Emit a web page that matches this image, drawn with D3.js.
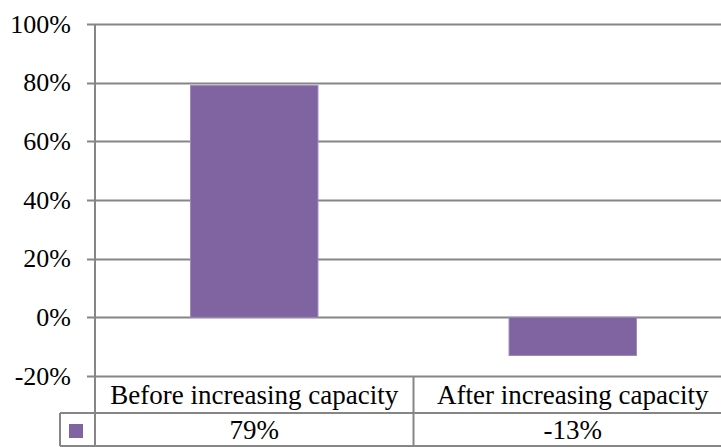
<!DOCTYPE html>
<html>
<head>
<meta charset="utf-8">
<script src="https://cdn.jsdelivr.net/npm/d3@7"></script>
<style>
  html, body { margin: 0; padding: 0; background: #fff; }
  svg { display: block; }
</style>
</head>
<body>
<svg id="chart" width="721" height="447"></svg>
<script>
// Chart data
const categories = ["Before increasing capacity", "After increasing capacity"];
const values = [0.79, -0.13];
const yTicks = [-0.2, 0, 0.2, 0.4, 0.6, 0.8, 1.0];

const axisFontSize = 26;
const tableFontSize = 27;
const fontFamily = "'Liberation Serif', 'Times New Roman', 'DejaVu Serif', serif";
const barColor = "#8064A2";
const lineColor = "#868686";

// The plot area runs slightly past the right edge of the canvas
const plot = { left: 95, right: 732, top: 24, bottom: 376 };
const table = { keyLeft: 60, rowSplit: 413, bottom: 446 };

const svg = d3.select("#chart")
  .attr("font-family", fontFamily);

const x = d3.scaleBand()
  .domain(categories)
  .range([plot.left, plot.right])
  .paddingInner(0)
  .paddingOuter(0);

const y = d3.scaleLinear()
  .domain([-0.2, 1.0])
  .range([plot.bottom, plot.top]);

// Percent format using a plain hyphen for negatives
const fmt = d3.formatLocale({
  decimal: ".", thousands: ",", grouping: [3], currency: ["$", ""], minus: "-"
}).format(".0%");

// Gridlines with tick stubs extending left of the axis
svg.append("g").selectAll("line")
  .data(yTicks)
  .join("line")
  .attr("x1", plot.left - 8)
  .attr("x2", plot.right)
  .attr("y1", d => Math.round(y(d)) + 0.5)
  .attr("y2", d => Math.round(y(d)) + 0.5)
  .attr("stroke", lineColor)
  .attr("stroke-width", 2);

// Y axis labels
svg.append("g").selectAll("text")
  .data(yTicks)
  .join("text")
  .attr("x", plot.left - 24)
  .attr("y", d => y(d))
  .attr("dy", "0.33em")
  .attr("text-anchor", "end")
  .attr("font-size", axisFontSize)
  .attr("fill", "#000")
  .text(d => fmt(d));

// Bars
const bw = x.bandwidth() * 0.4;
svg.append("g").selectAll("rect")
  .data(categories.map((c, i) => ({ c, v: values[i] })))
  .join("rect")
  .attr("x", d => x(d.c) + (x.bandwidth() - bw) / 2)
  .attr("width", bw)
  .attr("y", d => y(Math.max(0, d.v)))
  .attr("height", d => Math.abs(y(d.v) - y(0)))
  .attr("fill", barColor)
  .attr("stroke", "#9d86b8")
  .attr("stroke-width", 1);

// Data table below the plot
const tbl = svg.append("g");
const hline = (x1, x2, yy) => tbl.append("line")
  .attr("x1", x1).attr("x2", x2).attr("y1", yy).attr("y2", yy)
  .attr("stroke", lineColor).attr("stroke-width", 2);
const vline = (xx, y1, y2) => tbl.append("line")
  .attr("x1", xx).attr("x2", xx).attr("y1", y1).attr("y2", y2)
  .attr("stroke", lineColor).attr("stroke-width", 2);

hline(table.keyLeft, plot.right, table.rowSplit);
hline(table.keyLeft, plot.right, table.bottom);
vline(table.keyLeft, table.rowSplit, table.bottom);
vline(plot.left, plot.top, table.bottom);
vline(x(categories[1]), plot.bottom, table.bottom);
vline(plot.right, plot.bottom, table.bottom);

// Category labels
tbl.selectAll("text.cat")
  .data(categories)
  .join("text")
  .attr("class", "cat")
  .attr("x", d => x(d) + x.bandwidth() / 2)
  .attr("y", (plot.bottom + table.rowSplit) / 2 + 1)
  .attr("dy", "0.33em")
  .attr("text-anchor", "middle")
  .attr("font-size", tableFontSize)
  .attr("fill", "#000")
  .text(d => d);

// Value labels
tbl.selectAll("text.val")
  .data(categories.map((c, i) => ({ c, v: values[i] })))
  .join("text")
  .attr("class", "val")
  .attr("x", d => x(d.c) + x.bandwidth() / 2)
  .attr("y", (table.rowSplit + table.bottom) / 2 + 1)
  .attr("dy", "0.33em")
  .attr("text-anchor", "middle")
  .attr("font-size", tableFontSize)
  .attr("fill", "#000")
  .text(d => fmt(d.v));

// Legend key swatch
tbl.append("rect")
  .attr("x", 69).attr("y", 424)
  .attr("width", 14).attr("height", 14)
  .attr("fill", barColor);
</script>
</body>
</html>
